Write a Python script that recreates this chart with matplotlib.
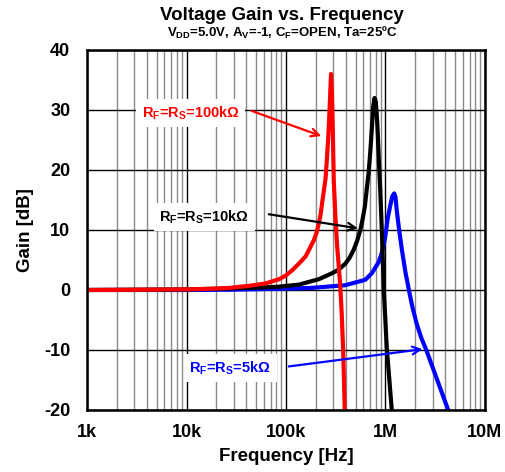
import numpy as np
import matplotlib
matplotlib.use("Agg")
import matplotlib.pyplot as plt
from matplotlib.ticker import LogLocator, FixedLocator, FixedFormatter

plt.rcParams['font.family'] = ['Liberation Sans', 'DejaVu Sans']
plt.rcParams['font.weight'] = 'bold'
plt.rcParams['mathtext.fontset'] = 'custom'
plt.rcParams['mathtext.rm'] = 'Liberation Sans:bold'
plt.rcParams['mathtext.it'] = 'Liberation Sans:bold'
plt.rcParams['mathtext.bf'] = 'Liberation Sans:bold'
plt.rcParams['mathtext.default'] = 'bf'
plt.rcParams['axes.unicode_minus'] = False

# Data (frequency in Hz, gain in dB)
freq_100k = [1.0e3, 3.162e3, 10e3, 16.98e3, 26.92e3, 42.66e3, 62.66e3, 85.11e3, 99.31e3, 115.6e3,
             134.9e3, 157.4e3, 173.8e3, 190.5e3, 204.2e3, 213.8e3, 222.3e3, 230.7e3, 239.9e3,
             249.5e3, 257.0e3, 264.9e3, 272.3e3, 278.6e3, 283.8e3, 289.1e3, 295.1e3, 302.0e3,
             314.1e3, 325.8e3, 338.8e3, 350.8e3, 363.1e3, 374.1e3, 382.8e3, 389.0e3, 393.6e3]
gain_100k = [0, 0.05, 0.1, 0.2, 0.35, 0.7, 1.1, 1.8, 2.4, 3.3,
             4.4, 5.6, 7, 8.3, 9.7, 11.1, 12.5, 14.5, 16.5,
             18.5, 21.5, 25, 29, 33, 36, 33, 27, 18.3,
             12, 7.5, 4, 0.8, -4, -9.4, -15, -20, -22]

freq_10k = [1.0e3, 10e3, 26.92e3, 62.66e3, 85.11e3, 134.9e3, 213.8e3, 290.4e3, 338.8e3, 395.4e3,
            436.5e3, 478.6e3, 518.8e3, 558.5e3, 588.8e3, 620.9e3, 650.1e3, 676.1e3, 703.1e3,
            729.5e3, 751.6e3, 776.2e3, 799.8e3, 822.2e3, 841.4e3, 861.0e3, 885.1e3, 918.4e3,
            939.7e3, 961.6e3, 993.1e3, 1.030e6, 1.084e6, 1.156e6, 1.175e6]
gain_10k = [0, 0.1, 0.25, 0.45, 0.55, 0.9, 1.8, 2.8, 3.4, 4.4,
            5.4, 6.7, 8.2, 10, 11.8, 14, 17, 19.5, 23,
            27, 30.5, 32, 31.3, 28.5, 25, 21, 16.7, 10,
            5, 0, -4.5, -9.7, -14.2, -20, -21.5]

freq_5k = [1.0e3, 10e3, 26.92e3, 85.11e3, 182.0e3, 395.4e3, 626.6e3, 729.5e3, 851.1e3, 922.6e3,
           993.1e3, 1.054e6, 1.114e6, 1.169e6, 1.222e6, 1.259e6, 1.297e6, 1.371e6, 1.462e6,
           1.585e6, 1.718e6, 1.862e6, 2.056e6, 2.291e6, 2.570e6, 3.311e6, 4.266e6, 4.365e6]
gain_5k = [0, 0.0, 0.05, 0.2, 0.35, 0.8, 1.7, 2.8, 4.6, 6.3,
           8.8, 12, 14, 15.6, 16.1, 15.5, 13.3, 10, 6.7,
           3, 0, -2.8, -5.6, -8, -10, -15, -20, -20.5]

x_ticks = [1e3, 1e4, 1e5, 1e6, 1e7]
x_tick_labels = ['1k', '10k', '100k', '1M', '10M']
y_ticks = [-20, -10, 0, 10, 20, 30, 40]

fig = plt.figure(figsize=(5.06, 4.72), dpi=100)
ax = fig.add_axes([87 / 506, 1 - 410 / 472, 398 / 506, 360 / 472])

ax.set_xscale('log')
ax.set_xlim(1e3, 1e7)
ax.set_ylim(-20, 40)

# grid
ax.xaxis.set_major_locator(FixedLocator(x_ticks))
ax.xaxis.set_major_formatter(FixedFormatter(x_tick_labels))
ax.xaxis.set_minor_locator(LogLocator(base=10, subs=np.arange(2, 10)))
ax.set_yticks(y_ticks)
ax.grid(which='major', color='black', linewidth=1.0)
ax.grid(which='minor', axis='x', color='#8a8a8a', linewidth=1.0)
ax.set_axisbelow(True)

# red drawn last so it sits on top along 0 dB
ax.plot(freq_5k, gain_5k, color='#0000ff', linewidth=3.0, zorder=5)
ax.plot(freq_10k, gain_10k, color='black', linewidth=3.0, zorder=5)
ax.plot(freq_100k, gain_100k, color='#ff0000', linewidth=3.0, zorder=5)

ax.tick_params(which='both', length=0, labelsize=13)
ax.tick_params(axis='x', pad=10)
ax.tick_params(axis='y', pad=12)
for s in ax.spines.values():
    s.set_linewidth(1.8)
    s.set_zorder(6)

ax.set_xlabel('Frequency [Hz]', fontsize=13.5, fontweight='bold', labelpad=5)
ax.set_ylabel('Gain [dB]', fontsize=13.5, fontweight='bold', labelpad=7)

fig.text(0.557, 1 - 16 / 472, 'Voltage Gain vs. Frequency', ha='center', va='center',
         fontsize=13.5, fontweight='bold')
fig.text(0.557, 1 - 33 / 472, r'V$_{DD}$=5.0V, A$_{V}$=-1, C$_{F}$=OPEN, Ta=25ºC',
         ha='center', va='center', fontsize=9.5, fontweight='bold')

# labels with arrows
box = dict(facecolor='white', edgecolor='none', pad=4)
ax.text(11e3, 29.5, r'R$_F$=R$_S$=100kΩ', color='#ff0000', fontsize=10.5,
        ha='center', va='center', bbox=box, zorder=7)
ax.annotate('', xy=(240e3, 25.5), xytext=(42.7e3, 30),
            arrowprops=dict(arrowstyle='->', color='#ff0000', lw=1.6, mutation_scale=14), zorder=7)

ax.text(15e3, 12.2, r'R$_F$=R$_S$=10kΩ', color='black', fontsize=10.5,
        ha='center', va='center', bbox=box, zorder=7)
ax.annotate('', xy=(562e3, 10.2), xytext=(63.1e3, 12.7),
            arrowprops=dict(arrowstyle='->', color='black', lw=1.6, mutation_scale=14), zorder=7)

ax.text(27.5e3, -13, r'R$_F$=R$_S$=5kΩ', color='#0000ff', fontsize=10.5,
        ha='center', va='center', bbox=box, zorder=7)
ax.annotate('', xy=(2.51e6, -9.8), xytext=(100e3, -12.8),
            arrowprops=dict(arrowstyle='->', color='#0000ff', lw=1.6, mutation_scale=14), zorder=7)

fig.savefig('out.png', dpi=100)
